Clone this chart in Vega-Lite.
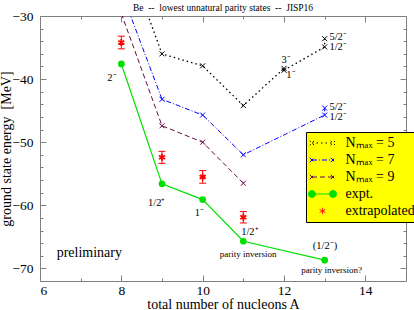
{
  "$schema": "https://vega.github.io/schema/vega-lite/v6.json",
  "width": 366,
  "height": 265,
  "autosize": {"type": "none"},
  "padding": {"left": 40, "top": 16, "right": 8, "bottom": 29},
  "background": "white",
  "title": {"text": "Be \u00a0--\u00a0 lowest unnatural parity states \u00a0--\u00a0 JISP16", "font": "Liberation Serif", "fontSize": 9.5, "fontWeight": "normal", "offset": 3, "dy": 6, "color": "black"},
  "config": {
    "view": {"stroke": "#808080", "strokeWidth": 1},
    "axis": {"grid": false, "domain": false, "tickColor": "#808080", "labelFont": "Liberation Serif", "labelFontSize": 13.5, "labelColor": "black", "titleFont": "Liberation Serif", "titleFontSize": 14, "titleFontWeight": "normal", "titleColor": "black"}
  },
  "datasets": {
    "pts": [
      {"series": "Nmax = 5", "A": 8, "E": -18.4},
      {"series": "Nmax = 5", "A": 9, "E": -36.0},
      {"series": "Nmax = 5", "A": 10, "E": -37.9},
      {"series": "Nmax = 5", "A": 11, "E": -44.2},
      {"series": "Nmax = 5", "A": 12, "E": -38.3},
      {"series": "Nmax = 5", "A": 12, "E": -38.6},
      {"series": "Nmax = 5", "A": 13, "E": -34.9},
      {"series": "Nmax = 5", "A": 13, "E": -33.6},
      {"series": "Nmax = 7", "A": 8, "E": -26.1},
      {"series": "Nmax = 7", "A": 9, "E": -43.2},
      {"series": "Nmax = 7", "A": 10, "E": -45.7},
      {"series": "Nmax = 7", "A": 11, "E": -52.0},
      {"series": "Nmax = 7", "A": 13, "E": -45.7},
      {"series": "Nmax = 7", "A": 13, "E": -44.6},
      {"series": "Nmax = 9", "A": 8, "E": -29.6},
      {"series": "Nmax = 9", "A": 9, "E": -47.4},
      {"series": "Nmax = 9", "A": 10, "E": -50.0},
      {"series": "Nmax = 9", "A": 11, "E": -56.5},
      {"series": "expt.", "A": 8, "E": -37.6},
      {"series": "expt.", "A": 9, "E": -56.6},
      {"series": "expt.", "A": 10, "E": -59.1},
      {"series": "expt.", "A": 11, "E": -65.7},
      {"series": "expt.", "A": 13, "E": -68.7},
      {"series": "extrapolated", "A": 8, "E": -34.2, "lo": -35.2, "hi": -33.2},
      {"series": "extrapolated", "A": 9, "E": -52.4, "lo": -53.35, "hi": -51.45},
      {"series": "extrapolated", "A": 10, "E": -55.5, "lo": -56.5, "hi": -54.5},
      {"series": "extrapolated", "A": 11, "E": -61.9, "lo": -62.8, "hi": -61.0}
    ],
    "labels": [
      {"kind": "state", "text": "2⁻", "A": 7.77, "E": -39.8},
      {"kind": "state", "text": "1/2⁺", "A": 8.87, "E": -59.6},
      {"kind": "state", "text": "1⁻", "A": 9.92, "E": -61.3},
      {"kind": "state", "text": "1/2⁺", "A": 11.16, "E": -64.2},
      {"kind": "state", "text": "(1/2⁻)", "A": 13.01, "E": -66.5},
      {"kind": "state", "text": "3⁻", "A": 12.05, "E": -36.9},
      {"kind": "state", "text": "1⁻", "A": 12.17, "E": -39.4},
      {"kind": "state", "text": "5/2⁻", "A": 13.33, "E": -33.3},
      {"kind": "state", "text": "1/2⁻", "A": 13.33, "E": -34.9},
      {"kind": "state", "text": "5/2⁻", "A": 13.33, "E": -44.5},
      {"kind": "state", "text": "1/2⁻", "A": 13.33, "E": -46.0},
      {"kind": "note", "text": "parity inversion", "A": 11.12, "E": -67.7},
      {"kind": "note", "text": "parity inversion?", "A": 13.17, "E": -70.3},
      {"kind": "prelim", "text": "preliminary", "A": 6.41, "E": -67.6}
    ]
  },
  "resolve": {"axis": {"x": "independent", "y": "independent"}},
  "layer": [
    {
      "data": {"name": "pts"},
      "mark": {"type": "point", "opacity": 0, "clip": true},
      "encoding": {
        "x": {"field": "A", "type": "quantitative", "scale": {"domain": [6, 15], "nice": false, "zero": false},
          "axis": {"orient": "bottom", "values": [6, 8, 10, 12, 14], "tickSize": -6, "labelPadding": 8, "title": "total number of nucleons A", "titleBaseline": "alphabetic", "titleY": 27}},
        "y": {"field": "E", "type": "quantitative", "scale": {"domain": [-72, -30], "nice": false, "zero": false},
          "axis": {"orient": "left", "values": [-70, -60, -50, -40, -30], "tickSize": -6, "labelPadding": 13, "title": "ground state energy \u00a0[MeV]", "titleBaseline": "alphabetic", "titleX": -30}},
        "color": {"field": "series", "type": "nominal",
          "scale": {"domain": ["Nmax = 5", "Nmax = 7", "Nmax = 9", "expt.", "extrapolated"], "range": ["#000000", "#0000ff", "#670748", "#00e000", "#ff0000"]},
          "legend": {
            "orient": "none", "legendX": 266, "legendY": 116, "title": null,
            "fillColor": "#ffff00", "strokeColor": "black", "padding": 4,
            "symbolSize": 100, "symbolStrokeWidth": 1, "symbolOffset": 5.5, "labelOffset": 16, "rowPadding": 3,
            "labelFont": "Liberation Serif", "labelFontSize": 14, "labelColor": "black", "symbolOpacity": 1,
            "labelExpr": "replace(datum.label, 'Nmax', 'Nₘₐₓ')"
          }},
        "shape": {"field": "series", "type": "nominal",
          "scale": {"domain": ["Nmax = 5", "Nmax = 7", "Nmax = 9", "expt.", "extrapolated"],
            "range": [
              "M-2.1,0L2.1,0M-2.55,-0.45L-1.65,0.45M-2.55,0.45L-1.65,-0.45M1.65,-0.45L2.55,0.45M1.65,0.45L2.55,-0.45",
              "M-2.1,0L2.1,0M-2.55,-0.45L-1.65,0.45M-2.55,0.45L-1.65,-0.45M1.65,-0.45L2.55,0.45M1.65,0.45L2.55,-0.45",
              "M-2.1,0L2.1,0M-2.55,-0.45L-1.65,0.45M-2.55,0.45L-1.65,-0.45M1.65,-0.45L2.55,0.45M1.65,0.45L2.55,-0.45",
              "M-2.1,0L2.1,0M-2.8,0A0.7,0.7,0,1,0,-1.4,0A0.7,0.7,0,1,0,-2.8,0M1.4,0A0.7,0.7,0,1,0,2.8,0A0.7,0.7,0,1,0,1.4,0",
              "M0,-0.65L0,0.65M-0.56,-0.32L0.56,0.32M-0.56,0.32L0.56,-0.32"
            ]}},
        "fill": {"field": "series", "type": "nominal",
          "scale": {"domain": ["Nmax = 5", "Nmax = 7", "Nmax = 9", "expt.", "extrapolated"], "range": ["transparent", "transparent", "transparent", "#00e000", "transparent"]}},
        "strokeDash": {"field": "series", "type": "nominal",
          "scale": {"domain": ["Nmax = 5", "Nmax = 7", "Nmax = 9", "expt.", "extrapolated"], "range": [[1.5, 3], [5, 2, 1, 2], [5, 3], [1, 0], [1, 0]]}}
      }
    },
    {
      "data": {"name": "pts"},
      "transform": [{"filter": "datum.series == 'Nmax = 5'"}],
      "mark": {"type": "line", "color": "#000000", "strokeDash": [1.5, 3], "strokeWidth": 1.3, "clip": true},
      "encoding": {
        "x": {"field": "A", "type": "quantitative", "axis": {"orient": "bottom", "values": [7, 9, 11, 13], "tickSize": -3, "labels": false, "title": null}},
        "y": {"field": "E", "type": "quantitative", "axis": {"orient": "left", "values": [-68, -66, -64, -62, -58, -56, -54, -52, -48, -46, -44, -42, -38, -36, -34, -32], "tickSize": -3, "labels": false, "title": null}}
      }
    },
    {
      "data": {"name": "pts"},
      "transform": [{"filter": "datum.series == 'Nmax = 7'"}],
      "mark": {"type": "line", "color": "#0000ff", "strokeDash": [5, 2, 1, 2], "strokeWidth": 1, "clip": true},
      "encoding": {
        "x": {"field": "A", "type": "quantitative", "axis": {"orient": "top", "values": [8, 10, 12, 14], "tickSize": -6, "labels": false, "title": null}},
        "y": {"field": "E", "type": "quantitative", "axis": {"orient": "right", "values": [-70, -60, -50, -40], "tickSize": -6, "labels": false, "title": null}}
      }
    },
    {
      "data": {"name": "pts"},
      "transform": [{"filter": "datum.series == 'Nmax = 9'"}],
      "mark": {"type": "line", "color": "#670748", "strokeDash": [5, 3], "strokeWidth": 1, "clip": true},
      "encoding": {
        "x": {"field": "A", "type": "quantitative", "axis": {"orient": "top", "values": [7, 9, 11, 13], "tickSize": -3, "labels": false, "title": null}},
        "y": {"field": "E", "type": "quantitative", "axis": {"orient": "right", "values": [-68, -66, -64, -62, -58, -56, -54, -52, -48, -46, -44, -42, -38, -36, -34, -32], "tickSize": -3, "labels": false, "title": null}}
      }
    },
    {
      "data": {"name": "pts"},
      "transform": [{"filter": "datum.series == 'Nmax = 5'"}],
      "mark": {"type": "point", "shape": "M-1,-1L1,1M-1,1L1,-1", "size": 25, "color": "#000000", "strokeWidth": 1, "opacity": 1, "clip": true},
      "encoding": {
        "x": {"field": "A", "type": "quantitative", "axis": null},
        "y": {"field": "E", "type": "quantitative", "axis": null}
      }
    },
    {
      "data": {"name": "pts"},
      "transform": [{"filter": "datum.series == 'Nmax = 7'"}],
      "mark": {"type": "point", "shape": "M-1,-1L1,1M-1,1L1,-1", "size": 25, "color": "#0000ff", "strokeWidth": 1, "opacity": 1, "clip": true},
      "encoding": {
        "x": {"field": "A", "type": "quantitative", "axis": null},
        "y": {"field": "E", "type": "quantitative", "axis": null}
      }
    },
    {
      "data": {"name": "pts"},
      "transform": [{"filter": "datum.series == 'Nmax = 9'"}],
      "mark": {"type": "point", "shape": "M-1,-1L1,1M-1,1L1,-1", "size": 25, "color": "#670748", "strokeWidth": 1, "opacity": 1, "clip": true},
      "encoding": {
        "x": {"field": "A", "type": "quantitative", "axis": null},
        "y": {"field": "E", "type": "quantitative", "axis": null}
      }
    },
    {
      "data": {"name": "pts"},
      "transform": [{"filter": "datum.series == 'expt.'"}],
      "mark": {"type": "line", "color": "#00e000", "strokeWidth": 1.2, "clip": true},
      "encoding": {
        "x": {"field": "A", "type": "quantitative", "axis": null},
        "y": {"field": "E", "type": "quantitative", "axis": null}
      }
    },
    {
      "data": {"name": "pts"},
      "transform": [{"filter": "datum.series == 'expt.'"}],
      "mark": {"type": "circle", "size": 45, "color": "#00e000", "opacity": 1, "clip": true},
      "encoding": {
        "x": {"field": "A", "type": "quantitative", "axis": null},
        "y": {"field": "E", "type": "quantitative", "axis": null}
      }
    },
    {
      "data": {"name": "pts"},
      "transform": [{"filter": "datum.series == 'extrapolated'"}],
      "mark": {"type": "rule", "color": "#ff0000", "strokeWidth": 1, "clip": true},
      "encoding": {
        "x": {"field": "A", "type": "quantitative", "axis": null},
        "y": {"field": "lo", "type": "quantitative", "axis": null},
        "y2": {"field": "hi"}
      }
    },
    {
      "data": {"name": "pts"},
      "transform": [{"filter": "datum.series == 'extrapolated'"}],
      "mark": {"type": "tick", "orient": "horizontal", "size": 7, "thickness": 1, "color": "#ff0000", "opacity": 1, "clip": true},
      "encoding": {
        "x": {"field": "A", "type": "quantitative", "axis": null},
        "y": {"field": "lo", "type": "quantitative", "axis": null}
      }
    },
    {
      "data": {"name": "pts"},
      "transform": [{"filter": "datum.series == 'extrapolated'"}],
      "mark": {"type": "tick", "orient": "horizontal", "size": 7, "thickness": 1, "color": "#ff0000", "opacity": 1, "clip": true},
      "encoding": {
        "x": {"field": "A", "type": "quantitative", "axis": null},
        "y": {"field": "hi", "type": "quantitative", "axis": null}
      }
    },
    {
      "data": {"name": "pts"},
      "transform": [{"filter": "datum.series == 'extrapolated'"}],
      "mark": {"type": "point", "shape": "M0,-1L0,1M-0.87,-0.5L0.87,0.5M-0.87,0.5L0.87,-0.5", "size": 49, "color": "#ff0000", "strokeWidth": 1.8, "opacity": 1, "clip": true},
      "encoding": {
        "x": {"field": "A", "type": "quantitative", "axis": null},
        "y": {"field": "E", "type": "quantitative", "axis": null}
      }
    },
    {
      "data": {"name": "labels"},
      "transform": [{"filter": "datum.kind == 'state'"}],
      "mark": {"type": "text", "font": "Liberation Serif", "fontSize": 10.5, "align": "center", "baseline": "middle", "color": "black"},
      "encoding": {
        "x": {"field": "A", "type": "quantitative", "axis": null},
        "y": {"field": "E", "type": "quantitative", "axis": null},
        "text": {"field": "text"}
      }
    },
    {
      "data": {"name": "labels"},
      "transform": [{"filter": "datum.kind == 'note'"}],
      "mark": {"type": "text", "font": "Liberation Serif", "fontSize": 9, "align": "center", "baseline": "middle", "color": "black"},
      "encoding": {
        "x": {"field": "A", "type": "quantitative", "axis": null},
        "y": {"field": "E", "type": "quantitative", "axis": null},
        "text": {"field": "text"}
      }
    },
    {
      "data": {"name": "labels"},
      "transform": [{"filter": "datum.kind == 'prelim'"}],
      "mark": {"type": "text", "font": "Liberation Serif", "fontSize": 14, "align": "left", "baseline": "middle", "color": "black"},
      "encoding": {
        "x": {"field": "A", "type": "quantitative", "axis": null},
        "y": {"field": "E", "type": "quantitative", "axis": null},
        "text": {"field": "text"}
      }
    }
  ]
}
